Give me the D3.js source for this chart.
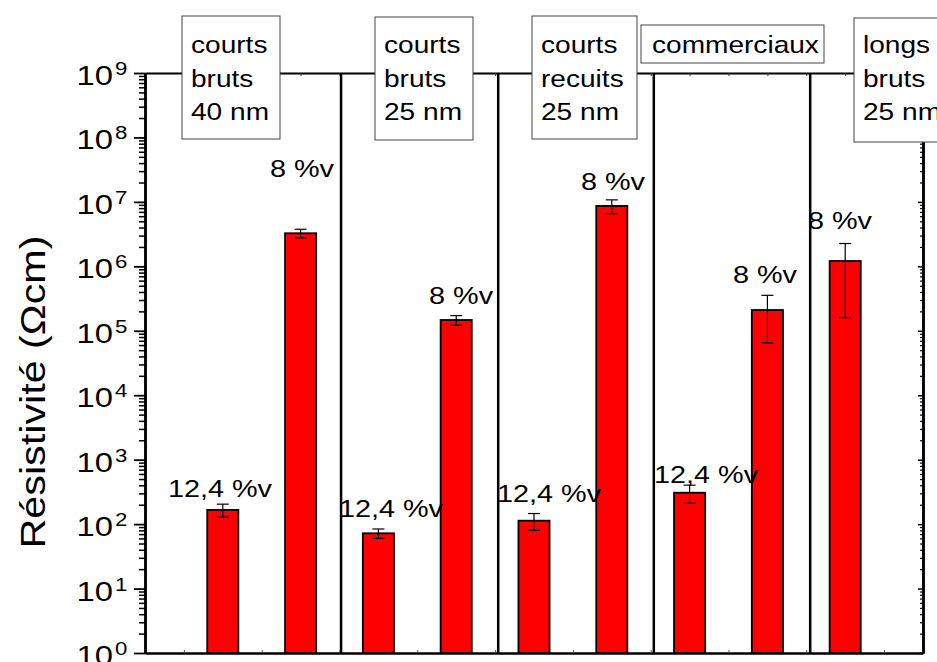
<!DOCTYPE html>
<html><head><meta charset="utf-8">
<script src="https://cdn.jsdelivr.net/npm/d3@7"></script>
<style>body{margin:0;background:#fff} svg{display:block} text{font-family:"Liberation Sans",Arial,sans-serif;fill:#000}</style>
</head><body><svg id="c" width="937" height="662"></svg>
<script>
// ---- data ----
const positions = [1, 2, 3, 4, 5, 6, 7, 8, 9];
const fractions = ["12,4 %v", "8 %v", "12,4 %v", "8 %v", "12,4 %v", "8 %v", "12,4 %v", "8 %v", "8 %v"];
const values = [166, 3.26e6, 72, 1.47e5, 113, 8.65e6, 307, 2.1e5, 1.21e6];
const errors = [38, 5.0e5, 12, 2.5e4, 33, 2.1e6, 95, 1.45e5, 1.05e6];
// annotation anchors in data units (x centre, y at text baseline)
const labelX = [0.964, 2.018, 3.162, 4.062, 5.193, 6.015, 7.211, 7.969, 8.933];
const labelY = [264, 2.44e7, 129, 2.61e5, 220, 1.53e7, 435, 5.52e5, 3.8e6];
const groupNames = [["courts", "bruts", "40 nm"], ["courts", "bruts", "25 nm"], ["courts", "recuits", "25 nm"], ["commerciaux"], ["longs", "bruts", "25 nm"]];
const dividers = [2.52, 4.54, 6.54, 8.55];
const yExponents = [0, 1, 2, 3, 4, 5, 6, 7, 8, 9];
const yTitle = "Résistivité (Ωcm)";

// ---- layout ----
const L = 145, R = 923, T = 73, B = 653;
const SX = 1.17;
const boxes = [
  {x: 182, y: 16, w: 98, h: 123},
  {x: 375, y: 17, w: 98, h: 123},
  {x: 532, y: 16, w: 105, h: 123},
  {x: 641, y: 25, w: 183, h: 38},
  {x: 854, y: 18, w: 100, h: 124}
];

const svg = d3.select("#c");
const x = d3.scaleLinear().domain([0, 10]).range([L, R]);
const y = d3.scaleLog().domain([1, 1e9]).range([B, T]);

const majors = yExponents.map(e => Math.pow(10, e));
const minors = [];
for (let e = 0; e < 9; e++) for (let k = 2; k <= 9; k++) minors.push(k * Math.pow(10, e));
const halfTicks = d3.range(0.5, 10, 0.5);

function styleAxis(g, w, tw, col) {
  g.select(".domain").attr("stroke", "#000").attr("stroke-width", w);
  g.selectAll(".tick line").attr("stroke", col || "#000").attr("stroke-width", tw);
  g.selectAll(".tick text").remove();
}

// top and bottom axes
svg.append("g").attr("transform", `translate(0,${T})`)
  .call(d3.axisBottom(x).tickValues(halfTicks).tickSize(3).tickSizeOuter(0))
  .call(g => styleAxis(g, 2, 1, "#333"));
svg.append("g").attr("transform", `translate(0,${B})`)
  .call(d3.axisTop(x).tickValues(halfTicks).tickSize(3).tickSizeOuter(0))
  .call(g => styleAxis(g, 2.5, 1, "#555"));

// right axis (inward ticks)
svg.append("g").attr("transform", `translate(${R},0)`)
  .call(d3.axisLeft(y).tickValues(minors).tickSize(3).tickSizeOuter(0).tickFormat(""))
  .call(g => styleAxis(g, 2.5, 1.2));
svg.append("g").attr("transform", `translate(${R},0)`)
  .call(d3.axisLeft(y).tickValues(majors).tickSize(5).tickSizeOuter(0).tickFormat(""))
  .call(g => styleAxis(g, 2.5, 1.5));

// left axis (outward ticks)
svg.append("g").attr("transform", `translate(${L},0)`)
  .call(d3.axisLeft(y).tickValues(minors).tickSize(6).tickSizeOuter(0).tickFormat(""))
  .call(g => styleAxis(g, 2.5, 1.5));
svg.append("g").attr("transform", `translate(${L},0)`)
  .call(d3.axisLeft(y).tickValues(majors).tickSize(11).tickSizeOuter(0).tickFormat(""))
  .call(g => styleAxis(g, 2.5, 1.8));

// y tick labels
const tl = svg.append("g");
yExponents.forEach(e => {
  const yy = y(Math.pow(10, e));
  tl.append("text").attr("transform", `translate(113,${yy + 12}) scale(${SX},1)`)
    .attr("text-anchor", "end").attr("font-size", 28).text("10");
  tl.append("text").attr("transform", `translate(115,${yy + 2}) scale(${SX},1)`)
    .attr("font-size", 19).text(e);
});

// y title
svg.append("text").attr("transform", `translate(45,392) rotate(-90) scale(1.18,1)`)
  .attr("text-anchor", "middle").attr("font-size", 35).text(yTitle);

// dividers
svg.append("g").selectAll("line").data(dividers).join("line")
  .attr("x1", d => x(d)).attr("x2", d => x(d)).attr("y1", T).attr("y2", B)
  .attr("stroke", "#000").attr("stroke-width", 2.5);

// bars
const bw = x(0.4) - x(0);
svg.append("g").selectAll("rect").data(positions).join("rect")
  .attr("x", (d) => x(d) - bw / 2).attr("width", bw)
  .attr("y", (d, i) => y(values[i])).attr("height", (d, i) => B - y(values[i]))
  .attr("fill", "#ff0000").attr("stroke", "#000").attr("stroke-width", 1.8);

// error bars
const eb = svg.append("g").attr("stroke", "#000").attr("stroke-width", 1.2);
positions.forEach((p, i) => {
  const cx = x(p), hi = y(values[i] + errors[i]), lo = y(values[i] - errors[i]);
  eb.append("line").attr("x1", cx).attr("x2", cx).attr("y1", hi).attr("y2", lo);
  eb.append("line").attr("x1", cx - 6).attr("x2", cx + 6).attr("y1", hi).attr("y2", hi);
  eb.append("line").attr("x1", cx - 6).attr("x2", cx + 6).attr("y1", lo).attr("y2", lo);
});

// fraction labels
const lg = svg.append("g");
fractions.forEach((t, i) => {
  lg.append("text").attr("transform", `translate(${x(labelX[i])},${y(labelY[i])}) scale(1.2,1)`)
    .attr("text-anchor", "middle").attr("font-size", 24).text(t);
});

// group boxes
const bg = svg.append("g");
boxes.forEach((b, i) => {
  bg.append("rect").attr("x", b.x).attr("y", b.y).attr("width", b.w).attr("height", b.h)
    .attr("fill", "#fff").attr("stroke", "#444").attr("stroke-width", 1);
  groupNames[i].forEach((line, j) => {
    bg.append("text").attr("transform", `translate(${b.x + (b.h < 50 ? 11 : 9)},${b.h < 50 ? b.y + 28 : 53 + j * 33.7}) scale(${SX},1)`)
      .attr("font-size", 24).text(line);
  });
});
</script></body></html>
